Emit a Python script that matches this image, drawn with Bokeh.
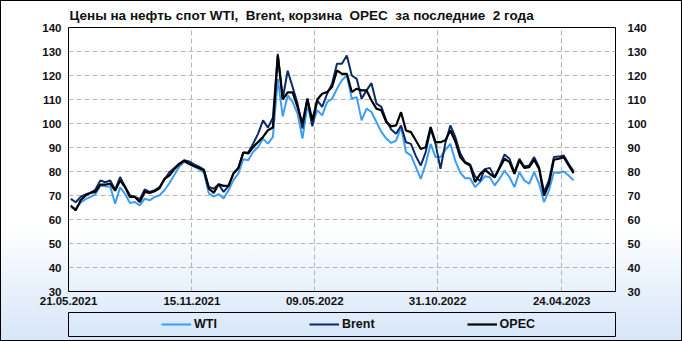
from bokeh.plotting import figure
from bokeh.models import Range1d, FixedTicker, LinearAxis, Legend, LegendItem
from bokeh.layouts import column
from bokeh.embed import file_html
from bokeh.resources import INLINE

# ---------------- data (weekly spot prices, USD/bbl) ----------------
brent = [68.6, 67.2, 69.4, 70.5, 71.1, 72.5, 76.3, 75.5, 76.3, 72.5,
         77.7, 73.8, 70.1, 69.4, 68.5, 72.5, 71.5, 72.2, 73.5, 76.6,
         79.7, 81.5, 83.3, 84.7, 84.2, 83.0, 82.0, 80.8, 73.6, 72.8,
         74.7, 71.5, 74.0, 79.2, 81.5, 87.9, 87.9, 91.6, 95.8, 101.3,
         98.3, 102.4, 129.0, 110.3, 122.0, 115.2, 108.3, 97.9, 110.3, 98.8,
         109.6, 106.9, 112.4, 116.6, 124.9, 124.9, 128.3, 120.0, 118.6, 110.3,
         113.8, 116.8, 108.3, 106.9, 101.3, 97.5, 95.7, 99.2, 92.2, 91.5,
         86.4, 82.5, 88.1, 97.8, 91.5, 81.1, 92.0, 99.2, 94.4, 87.6,
         84.0, 83.0, 78.0, 76.0, 81.0, 81.5, 77.6, 82.0, 87.1, 85.3,
         79.7, 85.3, 82.1, 82.5, 86.0, 81.8, 71.4, 76.3, 86.0, 86.2,
         86.7, 83.2, 80.1]
opec = [65.8, 63.8, 68.0, 70.0, 71.1, 71.5, 74.5, 74.5, 75.0, 72.0,
        76.3, 73.5, 69.4, 69.4, 67.3, 71.5, 71.1, 71.8, 73.0, 77.0,
        78.3, 81.0, 83.0, 84.5, 83.2, 82.3, 81.5, 80.5, 72.9, 71.1,
        74.7, 74.0, 74.0, 79.2, 81.5, 87.9, 87.5, 90.2, 92.3, 94.4,
        97.2, 98.3, 128.3, 110.0, 113.0, 113.0, 106.9, 100.0, 110.3, 101.3,
        110.0, 112.4, 113.1, 115.2, 122.1, 120.7, 120.7, 113.1, 114.5, 113.8,
        113.8, 109.6, 106.2, 105.5, 100.6, 98.8, 99.2, 104.7, 97.1, 96.4,
        92.9, 89.4, 90.1, 98.5, 92.2, 92.2, 93.0, 97.1, 92.6, 86.0,
        83.6, 82.5, 75.6, 78.8, 80.8, 79.0, 77.6, 81.5, 85.3, 83.9,
        79.0, 84.6, 81.5, 81.8, 84.9, 81.1, 70.0, 74.9, 84.9, 85.3,
        86.0, 82.5, 79.3]
wti = [65.1, 64.5, 67.0, 68.5, 69.4, 70.5, 74.2, 73.8, 73.8, 66.6,
       73.4, 70.7, 66.9, 67.3, 65.9, 68.7, 68.0, 69.4, 70.1, 72.2,
       75.1, 78.5, 82.0, 84.0, 83.2, 82.0, 81.0, 79.5, 70.9, 69.5,
       70.6, 68.8, 72.2, 76.4, 79.2, 85.1, 84.7, 88.2, 90.2, 93.7,
       91.6, 94.4, 118.6, 103.0, 111.7, 109.0, 104.1, 93.7, 107.6, 99.5,
       105.5, 103.4, 108.9, 110.3, 114.5, 118.0, 120.0, 110.3, 111.0, 101.3,
       106.2, 104.8, 100.6, 96.5, 93.7, 91.9, 92.9, 98.5, 88.1, 86.7,
       81.8, 76.9, 83.2, 91.5, 86.0, 86.0, 89.0, 91.5, 84.5, 79.5,
       77.2, 77.2, 73.5, 75.5, 78.0, 77.6, 74.2, 77.0, 80.4, 77.6,
       73.5, 79.7, 76.3, 74.9, 79.7, 74.9, 67.2, 72.1, 79.7, 79.4,
       80.0, 78.3, 76.3]
week = list(range(len(wti)))

series_names = ["WTI", "Brent", "OPEC"]
tick_labels = ["21.05.2021", "15.11.2021", "09.05.2022", "31.10.2022", "24.04.2023"]
tick_weeks = [-0.46, 24.57, 49.49, 74.40, 99.58]
y_ticks = [30, 40, 50, 60, 70, 80, 90, 100, 110, 120, 130, 140]
title_text = "Цены на нефть спот WTI, \u00a0Brent, корзина \u00a0OPEC \u00a0за последние \u00a02 года"

# ---------------- styles ----------------
FONT = "Liberation Sans"
TXT = "#111111"
C_WTI = "#3d9df2"
C_BRENT = "#0b2a66"
C_OPEC = "#000000"

p = figure(width=680, height=309,
           x_range=Range1d(-0.463, 110.5), y_range=Range1d(30, 140),
           output_backend="svg", toolbar_location=None,
           min_border_left=63, min_border_right=66,
           min_border_top=26, min_border_bottom=19)
p.border_fill_alpha = 0
p.background_fill_alpha = 0
p.outline_line_color = "black"
p.outline_line_width = 1

p.title.text = title_text
p.title.align = "left"
p.title.offset = 1
p.title.standoff = 9
p.title.text_font = FONT
p.title.text_font_size = "13.5px"
p.title.text_font_style = "bold"
p.title.text_color = TXT

right_axis = LinearAxis()
p.add_layout(right_axis, "right")

p.xaxis.ticker = FixedTicker(ticks=tick_weeks)
p.xaxis.major_label_overrides = {t: l for t, l in zip(tick_weeks, tick_labels)}
p.yaxis.ticker = FixedTicker(ticks=y_ticks)

for ax in [p.xaxis[0], p.yaxis[0], right_axis]:
    ax.axis_line_color = None
    ax.major_tick_line_color = None
    ax.minor_tick_line_color = None
    ax.major_tick_out = 0
    ax.major_tick_in = 0
    ax.major_label_text_font = FONT
    ax.major_label_text_font_size = "11.5px"
    ax.major_label_text_font_style = "bold"
    ax.major_label_text_color = TXT
p.xaxis[0].major_label_standoff = 5
p.yaxis[0].major_label_standoff = 7
right_axis.major_label_standoff = 12

p.xgrid.ticker = FixedTicker(ticks=tick_weeks[1:])
p.ygrid.ticker = FixedTicker(ticks=y_ticks[1:-1])
for g in [p.xgrid[0], p.ygrid[0]]:
    g.grid_line_color = "#b4b4b4"
    g.grid_line_dash = "5 3"
    g.grid_line_width = 1

p.line(week, wti, line_color=C_WTI, line_width=2)
p.line(week, brent, line_color=C_BRENT, line_width=2)
p.line(week, opec, line_color=C_OPEC, line_width=2.2)

# ---------------- legend strip ----------------
p2 = figure(width=680, height=30, x_range=Range1d(0, 1), y_range=Range1d(0, 1),
            output_backend="svg", toolbar_location=None, title=None,
            x_axis_type=None, y_axis_type=None,
            min_border_left=67, min_border_right=65,
            min_border_top=2, min_border_bottom=4)
p2.border_fill_alpha = 0
p2.background_fill_alpha = 0
p2.outline_line_color = "black"
p2.grid.visible = False

# legend swatches: renderers whose points sit outside the visible range
lw = p2.line([5, 6], [5, 6], line_color=C_WTI, line_width=2)
lb = p2.line([5, 6], [5, 6], line_color=C_BRENT, line_width=2)
lo = p2.line([5, 6], [5, 6], line_color=C_OPEC, line_width=2.2)
legend = Legend(items=[LegendItem(label=series_names[0], renderers=[lw]),
                       LegendItem(label=series_names[1], renderers=[lb]),
                       LegendItem(label=series_names[2], renderers=[lo])],
                location=(93, 2), orientation="horizontal", spacing=92,
                glyph_width=30, glyph_height=20, label_standoff=3, label_height=20,
                padding=0, margin=0, border_line_alpha=0, background_fill_alpha=0,
                label_text_font=FONT, label_text_font_size="12.5px",
                label_text_font_style="bold", label_text_color=TXT)
p2.add_layout(legend)

layout = column(p, p2, styles={
    "border": "1px solid #000000",
    "background": "linear-gradient(to bottom, #ffffff 0%, #ffffff 66%, #d6e6f9 100%)",
})

open("out.html", "w").write(file_html(layout, INLINE))
